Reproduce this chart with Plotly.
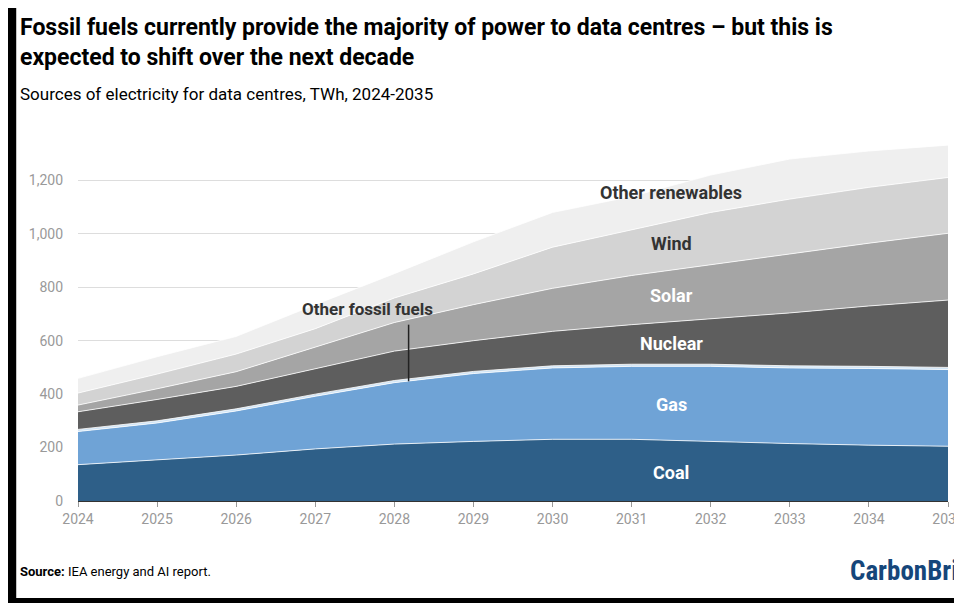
# Data centre electricity sources (IEA) — stacked area chart

# COMMAND ----------

import plotly.graph_objects as go

years = list(range(2024, 2036))

# TWh by source, bottom of the stack first
sources = {
    "Coal": [136, 155, 172, 195, 213, 223, 231, 231, 222, 215, 209, 205],
    "Gas": [124, 137, 165, 197, 230, 254, 267, 273, 282, 283, 287, 287],
    "Other fossil fuels": [8, 8, 8, 8, 8, 8, 8, 8, 8, 8, 8, 8],
    "Nuclear": [66, 80, 84, 95, 110, 115, 129, 148, 170, 198, 226, 252],
    "Solar": [25, 40, 55, 80, 107, 135, 161, 184, 203, 221, 235, 250],
    "Wind": [45, 55, 66, 70, 92, 115, 154, 172, 195, 205, 209, 209],
    "Other renewables": [55, 65, 66, 90, 91, 120, 130, 124, 140, 150, 136, 121],
}
colours = {
    "Coal": "#2e5f88",
    "Gas": "#6fa3d6",
    "Other fossil fuels": "#cfe4f6",
    "Nuclear": "#5e5e5e",
    "Solar": "#a5a5a5",
    "Wind": "#d3d3d3",
    "Other renewables": "#efefef",
}

# COMMAND ----------

fig = go.Figure()
for name, vals in sources.items():
    fig.add_trace(go.Scatter(x=years, y=vals, name=name, stackgroup="one", mode="lines",
                             line=dict(width=0.8, color="white"), fillcolor=colours[name]))

# in-chart labels (white text on dark bands, dark text on light bands)
labels = [
    ("Coal", 105, "white"), ("Gas", 360, "white"), ("Nuclear", 590, "white"),
    ("Solar", 770, "white"), ("Wind", 965, "#333333"), ("Other renewables", 1155, "#333333"),
]
for text, y, col in labels:
    fig.add_annotation(x=2031.5, y=y, text=f"<b>{text}</b>", showarrow=False,
                       font=dict(family="Roboto", size=18, color=col))
fig.add_annotation(x=2027.66, y=718, text="<b>Other fossil fuels</b>", showarrow=False,
                   font=dict(family="Roboto", size=17, color="#333333"))
fig.add_shape(type="line", x0=2028.18, x1=2028.18, y0=448, y1=660, line=dict(color="#222222", width=1.5))

fig.update_layout(
    width=962, height=603,
    paper_bgcolor="white", plot_bgcolor="white",
    margin=dict(l=70, r=22, t=135, b=110, autoexpand=False),
    showlegend=False,
    font=dict(family="Roboto", color="#333333"),
)
fig.update_xaxes(range=[2024, 2035], tickvals=years, showgrid=False, showline=True,
                 linecolor="#333333", ticks="outside", ticklen=5, tickcolor="#999999",
                 tickfont=dict(size=14, color="#999999"))
fig.update_yaxes(range=[0, 1340], tickvals=[0, 200, 400, 600, 800, 1000, 1200], tickformat=",",
                 gridcolor="#dddddd", zeroline=False, tickfont=dict(size=14, color="#999999"),
                 ticklabelstandoff=14)

# title, subtitle, source and logo
fig.add_annotation(xref="paper", yref="paper", x=-0.069, y=1.365, xanchor="left", yanchor="top", align="left",
                   text="<b>Fossil fuels currently provide the majority of power to data centres – but this is<br>expected to shift over the next decade</b>",
                   showarrow=False, font=dict(family="Roboto", size=23, color="black"))
fig.add_annotation(xref="paper", yref="paper", x=-0.069, y=1.137, xanchor="left", yanchor="middle",
                   text="Sources of electricity for data centres, TWh, 2024-2035", showarrow=False,
                   font=dict(size=17, color="black"))
fig.add_annotation(xref="paper", yref="paper", x=-0.069, y=-0.196, xanchor="left", yanchor="middle",
                   text="<b>Source:</b> IEA energy and AI report.", showarrow=False,
                   font=dict(size=13, color="black"))
fig.add_annotation(xref="paper", yref="paper", x=0.885, y=-0.196, xanchor="left", yanchor="middle",
                   text="<b>CarbonBrief</b>", showarrow=False,
                   font=dict(family="Roboto Condensed, Roboto", size=27, color="#15467a"))

# black frame strips from the screenshot
fig.add_shape(type="rect", xref="paper", yref="paper", x0=-0.0805, x1=-0.071, y0=-0.31, y1=1.38,
              fillcolor="black", line_width=0, layer="above")
fig.add_shape(type="rect", xref="paper", yref="paper", x0=-0.0805, x1=1.03, y0=-0.31, y1=-0.271,
              fillcolor="black", line_width=0, layer="above")

fig.write_html("out.html")
